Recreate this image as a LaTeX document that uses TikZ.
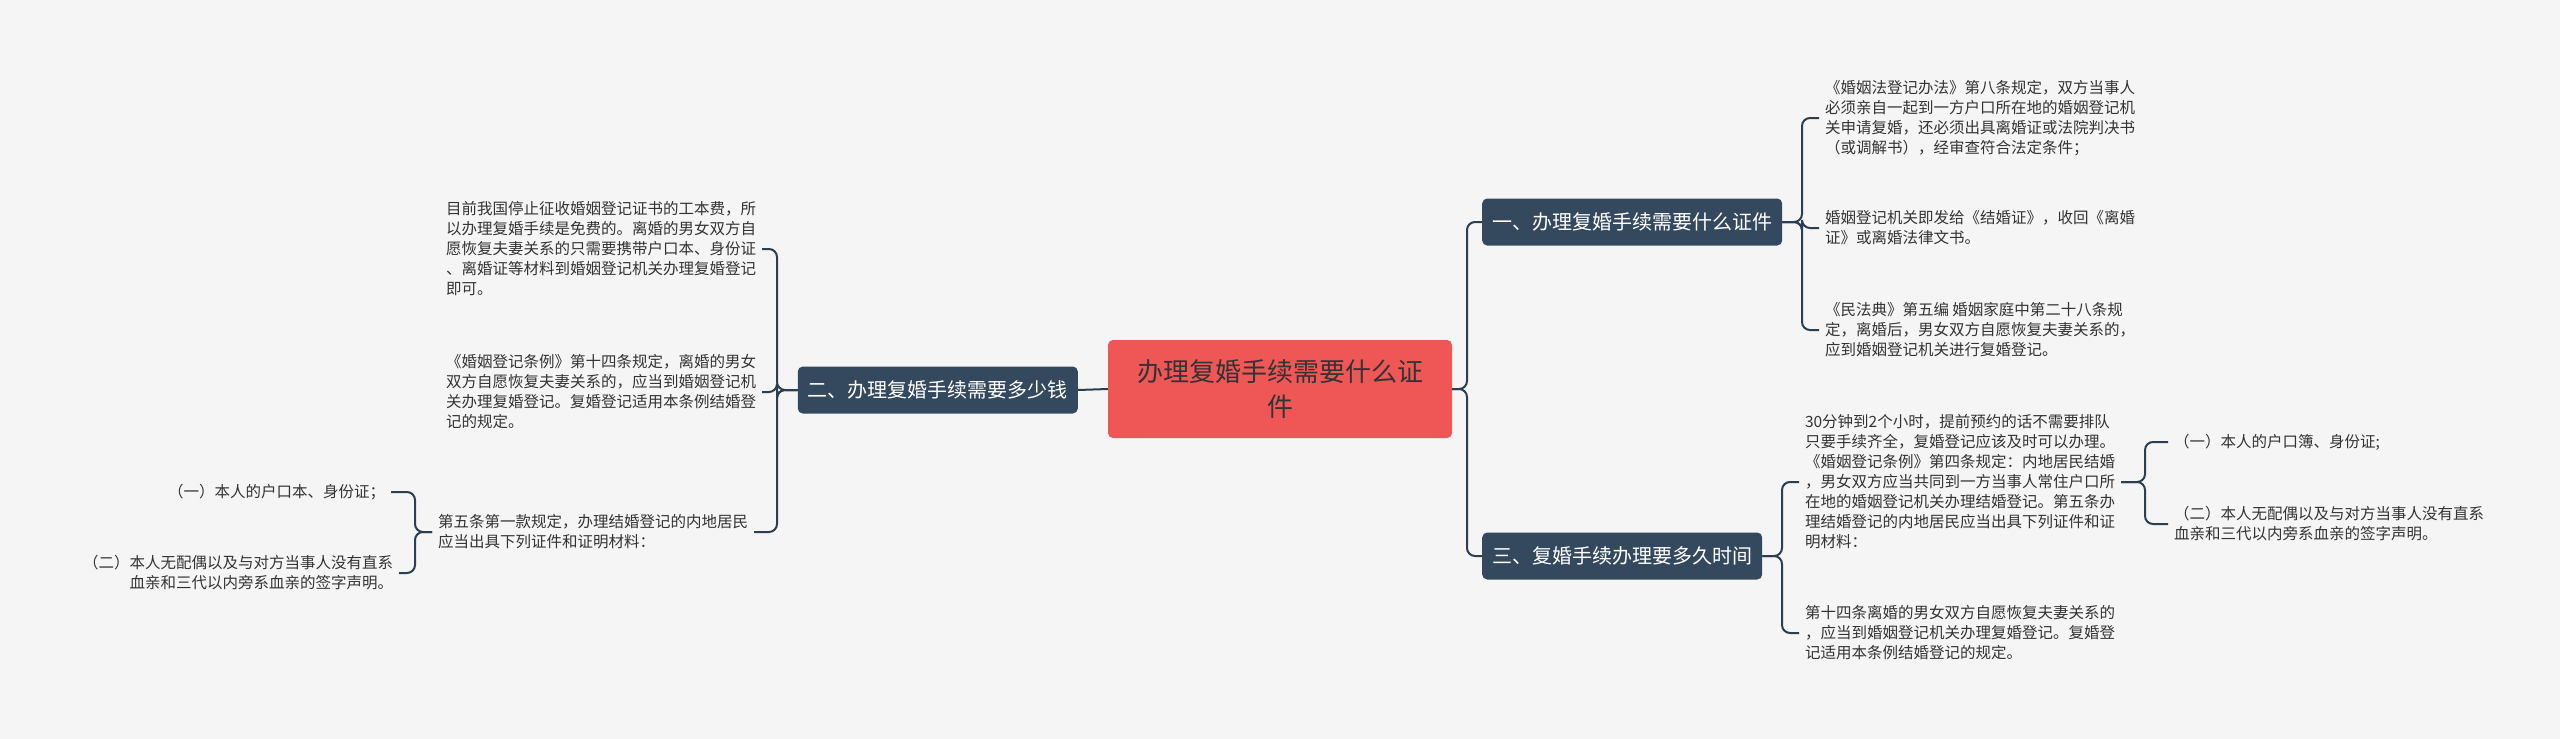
\documentclass[tikz,border=0pt]{standalone}
\usepackage{fontspec}
\setmainfont{Noto Sans CJK SC}
\definecolor{bgcol}{HTML}{F5F5F5}
\definecolor{linecol}{HTML}{2C3E50}
\definecolor{topiccol}{HTML}{34495E}
\definecolor{rootcol}{HTML}{EF5757}
\definecolor{txtcol}{HTML}{333333}
\begin{document}
\begin{tikzpicture}[x=1pt,y=-1pt,
	root/.style={rectangle, rounded corners=5pt, fill=rootcol, text=black!80, minimum width=344pt, minimum height=98pt, align=center, font=\fontsize{26}{35}\selectfont},
	topic/.style={rectangle, rounded corners=5pt, fill=topiccol, text=white, minimum height=47pt, inner xsep=10pt, font=\fontsize{20}{24}\selectfont},
	leaf/.style={inner sep=0pt, outer xsep=6pt, text=txtcol, align=left, font=\fontsize{15.5}{20}\selectfont},
	link/.style={draw=linecol, line width=2pt, rounded corners=8pt}]

	%Background
	\fill[bgcol] (0,0) rectangle (2560,739);
	\useasboundingbox (0,0) rectangle (2560,739);

	%Nodes
	\node[root]	(root)	at (1280,389) {办理复婚手续需要什么证\\件};
	\node[topic, anchor=west]	(cert)	at (1482,222) {一、办理复婚手续需要什么证件};
	\node[topic, anchor=east]	(cost)	at (1078,390) {二、办理复婚手续需要多少钱};
	\node[topic, anchor=west]	(time)	at (1482,556) {三、复婚手续办理要多久时间};

	\node[leaf, anchor=west]	(certa)	at (1819,118) {《婚姻法登记办法》第八条规定，双方当事人\\必须亲自一起到一方户口所在地的婚姻登记机\\关申请复婚，还必须出具离婚证或法院判决书\\（或调解书），经审查符合法定条件；};
	\node[leaf, anchor=west]	(certb)	at (1819,228) {婚姻登记机关即发给《结婚证》，收回《离婚\\证》或离婚法律文书。};
	\node[leaf, anchor=west]	(certc)	at (1819,330) {《民法典》第五编 婚姻家庭中第二十八条规\\定，离婚后，男女双方自愿恢复夫妻关系的，\\应到婚姻登记机关进行复婚登记。};

	\node[leaf, anchor=east]	(costa)	at (762,249) {目前我国停止征收婚姻登记证书的工本费，所\\以办理复婚手续是免费的。离婚的男女双方自\\愿恢复夫妻关系的只需要携带户口本、身份证\\、离婚证等材料到婚姻登记机关办理复婚登记\\即可。};
	\node[leaf, anchor=east]	(costb)	at (762,392) {《婚姻登记条例》第十四条规定，离婚的男女\\双方自愿恢复夫妻关系的，应当到婚姻登记机\\关办理复婚登记。复婚登记适用本条例结婚登\\记的规定。};
	\node[leaf, anchor=west]	(costc)	at (432,532) {第五条第一款规定，办理结婚登记的内地居民\\应当出具下列证件和证明材料：};
	\node[leaf, anchor=east]	(costca)	at (391,492) {（一）本人的户口本、身份证；};
	\node[leaf, anchor=east, align=right]	(costcb)	at (399,573) {（二）本人无配偶以及与对方当事人没有直系\\血亲和三代以内旁系血亲的签字声明。};

	\node[leaf, anchor=west]	(timea)	at (1799,482) {30分钟到2个小时，提前预约的话不需要排队\\只要手续齐全，复婚登记应该及时可以办理。\\《婚姻登记条例》第四条规定：内地居民结婚\\，男女双方应当共同到一方当事人常住户口所\\在地的婚姻登记机关办理结婚登记。第五条办\\理结婚登记的内地居民应当出具下列证件和证\\明材料：};
	\node[leaf, anchor=west]	(timeb)	at (1799,633) {第十四条离婚的男女双方自愿恢复夫妻关系的\\，应当到婚姻登记机关办理复婚登记。复婚登\\记适用本条例结婚登记的规定。};
	\node[leaf, anchor=west]	(timea1)	at (2168,442) {（一）本人的户口簿、身份证;};
	\node[leaf, anchor=west]	(timea2)	at (2168,524) {（二）本人无配偶以及与对方当事人没有直系\\血亲和三代以内旁系血亲的签字声明。};

	%Lines
	\draw[link] (root.west) -- (cost.east);
	\foreach \t in {cert,time}
		\draw[link] (root.east) -- (1467,389) |- (\t.west);
	\foreach \t in {certa,certb,certc}
		\draw[link] (cert.east) -- (1802,222) |- (\t.west);
	\foreach \t in {costa,costb,costc}
		\draw[link] (cost.west) -- (777,390) |- (\t.east);
	\foreach \t in {costca,costcb}
		\draw[link] (costc.west) -- (415,532) |- (\t.east);
	\foreach \t in {timea,timeb}
		\draw[link] (time.east) -- (1782,556) |- (\t.west);
	\foreach \t in {timea1,timea2}
		\draw[link] (timea.east) -- (2145,482) |- (\t.west);
\end{tikzpicture}
\end{document}
